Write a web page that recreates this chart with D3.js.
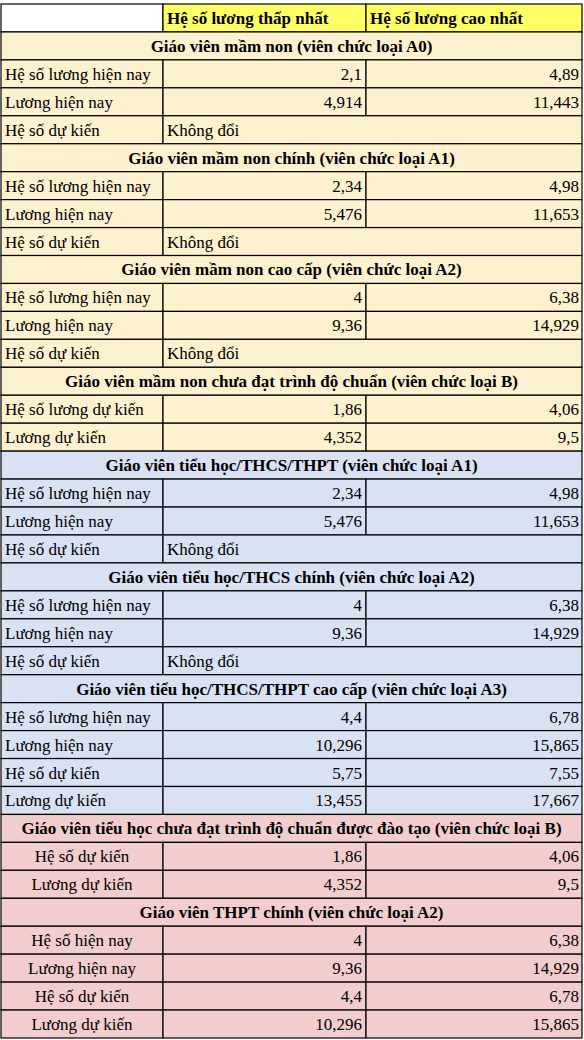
<!DOCTYPE html>
<html><head><meta charset="utf-8">
<script src="https://cdn.jsdelivr.net/npm/d3@7"></script>
<style>body{margin:0;background:#fff}</style></head>
<body><svg id="c" width="584" height="1040"></svg>
<script>
const headers = ["", "Hệ số lương thấp nhất", "Hệ số lương cao nhất"];
const sectionTitles = [
 "Giáo viên mầm non (viên chức loại A0)",
 "Giáo viên mầm non chính (viên chức loại A1)",
 "Giáo viên mầm non cao cấp (viên chức loại A2)",
 "Giáo viên mầm non chưa đạt trình độ chuẩn (viên chức loại B)",
 "Giáo viên tiểu học/THCS/THPT (viên chức loại A1)",
 "Giáo viên tiểu học/THCS chính (viên chức loại A2)",
 "Giáo viên tiểu học/THCS/THPT cao cấp (viên chức loại A3)",
 "Giáo viên tiểu học chưa đạt trình độ chuẩn được đào tạo (viên chức loại B)",
 "Giáo viên THPT chính (viên chức loại A2)"
];
const sectionGroup = [0,0,0,0,1,1,1,2,2];
const rowLabels = [
 ["Hệ số lương hiện nay","Lương hiện nay","Hệ số dự kiến"],
 ["Hệ số lương hiện nay","Lương hiện nay","Hệ số dự kiến"],
 ["Hệ số lương hiện nay","Lương hiện nay","Hệ số dự kiến"],
 ["Hệ số lương dự kiến","Lương dự kiến"],
 ["Hệ số lương hiện nay","Lương hiện nay","Hệ số dự kiến"],
 ["Hệ số lương hiện nay","Lương hiện nay","Hệ số dự kiến"],
 ["Hệ số lương hiện nay","Lương hiện nay","Hệ số dự kiến","Lương dự kiến"],
 ["Hệ số dự kiến","Lương dự kiến"],
 ["Hệ số hiện nay","Lương hiện nay","Hệ số dự kiến","Lương dự kiến"]
];
const minValues = [
 ["2,1","4,914",null],["2,34","5,476",null],["4","9,36",null],["1,86","4,352"],
 ["2,34","5,476",null],["4","9,36",null],["4,4","10,296","5,75","13,455"],
 ["1,86","4,352"],["4","9,36","4,4","10,296"]
];
const maxValues = [
 ["4,89","11,443",null],["4,98","11,653",null],["6,38","14,929",null],["4,06","9,5"],
 ["4,98","11,653",null],["6,38","14,929",null],["6,78","15,865","7,55","17,667"],
 ["4,06","9,5"],["6,38","14,929","6,78","15,865"]
];
const unchanged = "Không đổi";
const groupColors = ["#fdf1d0","#d9e2f3","#f2cdcd"];
const headerColor = "#ffff66";

const rows = [{type:"header"}];
sectionTitles.forEach((t,i)=>{
  rows.push({type:"title",text:t,g:sectionGroup[i]});
  rowLabels[i].forEach((l,j)=>rows.push({type:"data",label:l,min:minValues[i][j],max:maxValues[i][j],g:sectionGroup[i]}));
});
const svg=d3.select("#c");
const y=d3.scaleBand().domain(d3.range(rows.length)).range([4,1038]);
const xs=[1,163,366,582];
const font="'Liberation Serif','Times New Roman',serif";
const h=y.bandwidth();
rows.forEach((r,i)=>{
  const g=svg.append("g").attr("transform",`translate(0,${y(i)})`);
  const cell=(x0,x1,fill)=>g.append("rect").attr("x",x0).attr("y",0).attr("width",x1-x0).attr("height",h).attr("fill",fill).attr("stroke","#000").attr("stroke-width",1.2);
  const txt=(x,t,anchor,bold)=>g.append("text").attr("x",x).attr("y",h/2+6).attr("text-anchor",anchor).attr("font-family",font).attr("font-size",17).attr("font-weight",bold?"bold":"normal").attr("fill","#000").text(t);
  if(r.type==="header"){
    cell(xs[0],xs[1],"#fff");cell(xs[1],xs[2],headerColor);cell(xs[2],xs[3],headerColor);
    txt(xs[1]+4,headers[1],"start",true);txt(xs[2]+4,headers[2],"start",true);
  } else if(r.type==="title"){
    cell(xs[0],xs[3],groupColors[r.g]);txt((xs[0]+xs[3])/2,r.text,"middle",true);
  } else {
    const c=groupColors[r.g];
    if(r.min===null){cell(xs[0],xs[1],c);cell(xs[1],xs[3],c);txt(xs[1]+4,unchanged,"start");}
    else{cell(xs[0],xs[1],c);cell(xs[1],xs[2],c);cell(xs[2],xs[3],c);txt(xs[2]-4,r.min,"end");txt(xs[3]-3,r.max,"end");}
    if(r.g===2) txt((xs[0]+xs[1])/2,r.label,"middle"); else txt(xs[0]+4,r.label,"start");
  }
});
</script></body></html>
